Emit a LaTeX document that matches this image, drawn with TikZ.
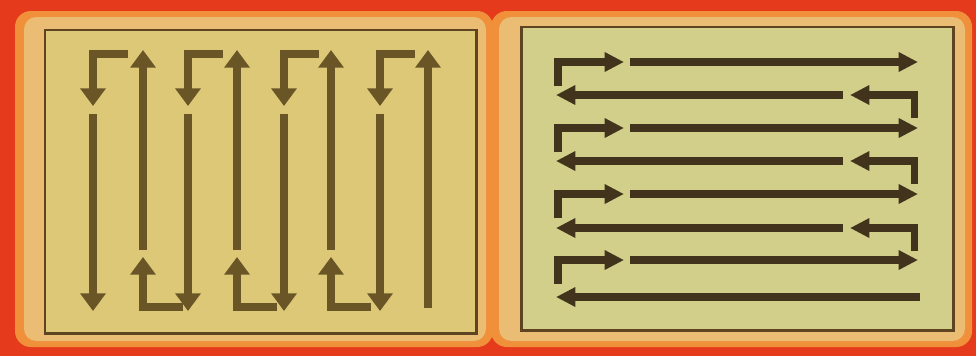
\documentclass[tikz,border=0pt]{standalone}
\usetikzlibrary{arrows.meta}
\definecolor{bgred}{HTML}{E63A1C}
\definecolor{panelorange}{HTML}{F0903A}
\definecolor{paneltan}{HTML}{EBBC74}
\definecolor{frameline}{HTML}{5E4420}
\definecolor{fillleft}{HTML}{DDC878}
\definecolor{fillright}{HTML}{D2CF8A}
\definecolor{arrowleft}{HTML}{6A5526}
\definecolor{arrowright}{HTML}{42341C}

\begin{document}
\begin{tikzpicture}[x=0.02cm,y=-0.02cm,
    colarrow/.style={draw=arrowleft, line width=5pt, line join=miter,
        -{Triangle[width=14pt,length=10pt]}},
    rowarrow/.style={draw=arrowright, line width=4pt, line join=miter,
        -{Triangle[width=10.5pt,length=11pt]}}]
    \useasboundingbox (0,0) rectangle (976,356);
    \fill[bgred] (0,0) rectangle (976,356);
    % the two mounts
    \fill[panelorange, rounded corners=9pt] (15,11) rectangle (493,347);
    \fill[panelorange, rounded corners=9pt] (491,11) rectangle (972,347);
    \fill[paneltan, rounded corners=7pt] (24,17) rectangle (486,341);
    \fill[paneltan, rounded corners=7pt] (499,17) rectangle (965,341);
    \filldraw[draw=frameline, line width=1.7pt, fill=fillleft] (45,30) rectangle (476,333);
    \filldraw[draw=frameline, line width=1.7pt, fill=fillright] (521,27) rectangle (953,330);
    % left: up and down
    \foreach \x in {93,188,284,380} {
        \draw[colarrow] (\x+35,54) -- (\x,54) -- (\x,106);
        \draw[colarrow] (\x,114) -- (\x,311);
    }
    \foreach \x in {143,237,331} {
        \draw[colarrow] (\x,250) -- (\x,50);
        \draw[colarrow] (\x+40,307) -- (\x,307) -- (\x,257);
    }
    \draw[colarrow] (428,308) -- (428,50);
    % right: back and forth
    \foreach \y in {62,128,194,260} {
        \draw[rowarrow] (558,\y+24) -- (558,\y) -- (624,\y);
        \draw[rowarrow] (630,\y) -- (918,\y);
    }
    \foreach \y in {95,161,228} {
        \draw[rowarrow] (843,\y) -- (556,\y);
        \draw[rowarrow] (914,\y+23) -- (914,\y) -- (850,\y);
    }
    \draw[rowarrow] (920,297) -- (556,297);
\end{tikzpicture}
\end{document}
